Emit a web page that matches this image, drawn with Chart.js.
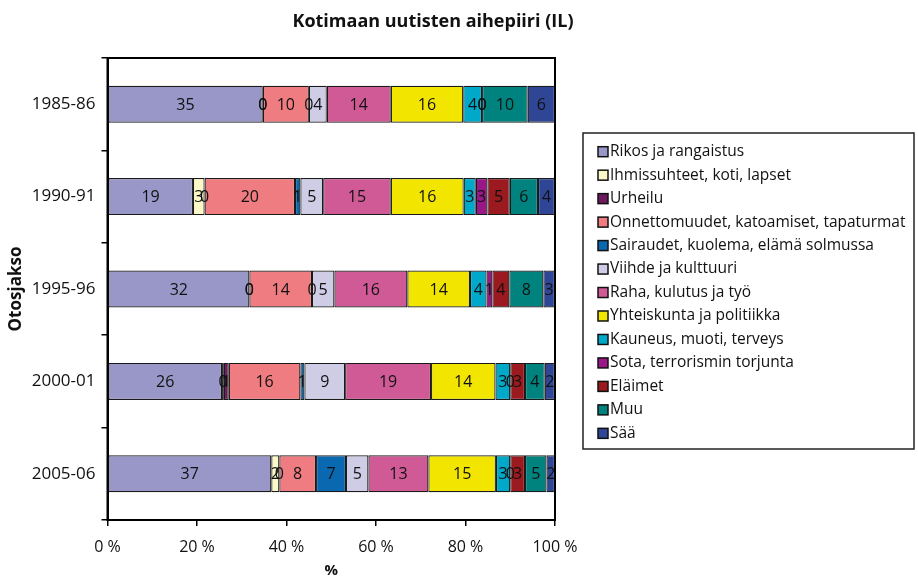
<!DOCTYPE html>
<html><head><meta charset="utf-8">
<script src="https://cdn.jsdelivr.net/npm/chart.js@4.4.0/dist/chart.umd.min.js"></script>
<style>html,body{margin:0;padding:0;background:#fff}#wrap{width:918px;height:580px}</style>
</head><body><div id="wrap"><canvas id="c" width="918" height="580"></canvas></div>
<script>
const chartTitle = 'Kotimaan uutisten aihepiiri (IL)';
const periods = ['1985-86', '1990-91', '1995-96', '2000-01', '2005-06'];
const topics = ['Rikos ja rangaistus', 'Ihmissuhteet, koti, lapset', 'Urheilu',
  'Onnettomuudet, katoamiset, tapaturmat', 'Sairaudet, kuolema, elämä solmussa',
  'Viihde ja kulttuuri', 'Raha, kulutus ja työ', 'Yhteiskunta ja politiikka',
  'Kauneus, muoti, terveys', 'Sota, terrorismin torjunta', 'Eläimet', 'Muu', 'Sää'];
const rikos        = [34.7, 19.1, 31.7, 25.6, 36.6];
const ihmissuhteet = [0, 2.6, 0, 0.4, 1.8];
const urheilu      = [0, 0, 0, 1.1, 0];
const onnettomuudet= [10.3, 20.2, 14.0, 16.0, 8.2];
const sairaudet    = [0, 1.2, 0, 0.9, 6.7];
const viihde       = [4.0, 5.1, 5.0, 9.1, 5.0];
const raha         = [14.3, 15.1, 16.3, 19.2, 13.4];
const yhteiskunta  = [16.2, 16.3, 14.0, 14.4, 15.1];
const kauneus      = [4.2, 2.7, 3.7, 3.3, 3.2];
const sota         = [0, 2.6, 1.3, 0, 0];
const elaimet      = [0, 5.0, 3.8, 3.3, 3.3];
const muu          = [10.2, 6.3, 7.6, 4.4, 4.8];
const saa          = [6.1, 3.8, 2.6, 2.3, 1.9];
const xTickValues  = [0, 20, 40, 60, 80, 100];

const seriesData = [rikos, ihmissuhteet, urheilu, onnettomuudet, sairaudet, viihde,
  raha, yhteiskunta, kauneus, sota, elaimet, muu, saa];
const colors = ['#9897C7', '#FCF8C8', '#6B1A5E', '#EE7C80', '#0A68B0', '#CFCDE6',
  '#CF5A96', '#F2E600', '#00A9C9', '#9A1787', '#9B1A1F', '#00837E', '#2F4696'];

const FONT = 'Open Sans';
const TXT = '#111';

const labelPlugin = {
  id: 'segLabels',
  afterDatasetsDraw(chart) {
    const ctx = chart.ctx;
    ctx.save();
    ctx.font = '16px "' + FONT + '"';
    ctx.fillStyle = TXT;
    ctx.textAlign = 'center';
    ctx.textBaseline = 'middle';
    chart.data.datasets.forEach((ds, i) => {
      const meta = chart.getDatasetMeta(i);
      meta.data.forEach((el, j) => {
        const v = ds.data[j];
        if (v === null || v === undefined) return;
        ctx.fillText(String(Math.round(v)), (el.x + el.base) / 2, el.y + 1);
      });
    });
    ctx.restore();
  }
};

const framePlugin = {
  id: 'frameAndLegend',
  afterDraw(chart) {
    const ctx = chart.ctx;
    const a = chart.chartArea;
    ctx.save();
    ctx.strokeStyle = '#000';
    ctx.lineWidth = 2;
    ctx.strokeRect(a.left, a.top, a.right - a.left, a.bottom - a.top);
    // title
    ctx.fillStyle = TXT;
    ctx.font = 'bold 18px "' + FONT + '"';
    ctx.textAlign = 'center';
    ctx.textBaseline = 'middle';
    ctx.fillText(chartTitle, 433, 22);
    // legend
    ctx.lineWidth = 1.5;
    ctx.strokeStyle = '#222';
    ctx.strokeRect(583, 133, 331, 316);
    ctx.font = '15.5px "' + FONT + '"';
    ctx.textAlign = 'left';
    chart.data.datasets.forEach((ds, i) => {
      const y = 151.7 + i * 23.47;
      ctx.fillStyle = ds.backgroundColor;
      ctx.fillRect(598, y - 5, 10, 10);
      ctx.strokeStyle = '#111';
      ctx.lineWidth = 1.5;
      ctx.strokeRect(598, y - 5, 10, 10);
      ctx.fillStyle = TXT;
      ctx.fillText(ds.label, 610, y);
    });
    ctx.restore();
  }
};

new Chart(document.getElementById('c'), {
  type: 'bar',
  data: {
    labels: periods,
    datasets: seriesData.map((d, i) => ({
      label: topics[i], data: d, backgroundColor: colors[i],
      borderColor: '#1a1a1a', borderWidth: 1.2, borderSkipped: false,
      barPercentage: 0.4, categoryPercentage: 1
    }))
  },
  options: {
    indexAxis: 'y', responsive: false, animation: false,
    layout: { padding: { top: 58, right: 363, bottom: 0, left: 0 } },
    plugins: { legend: { display: false }, tooltip: { enabled: false }, title: { display: false } },
    scales: {
      x: {
        stacked: true, min: 0, max: 100,
        afterBuildTicks: s => { s.ticks = xTickValues.map(v => ({ value: v })); },
        ticks: { callback: v => v + ' %', font: { family: FONT, size: 16 }, color: TXT, padding: 12 },
        grid: { drawOnChartArea: false, tickLength: 6, color: '#000', lineWidth: 1.5 },
        border: { color: '#000', width: 2 },
        title: { display: true, text: '%', font: { family: FONT, size: 15, weight: 'bold' }, color: TXT, padding: 0 },
        afterFit: s => { s.height = 60; }
      },
      y: {
        stacked: true,
        ticks: { font: { family: FONT, size: 17 }, color: TXT, padding: 6 },
        grid: { drawOnChartArea: false, tickLength: 6, color: '#000', lineWidth: 1.5, offset: true },
        border: { color: '#000', width: 2 },
        title: { display: true, text: 'Otosjakso', font: { family: FONT, size: 17, weight: 'bold' }, color: TXT, padding: { top: 6, bottom: 0 } },
        afterFit: s => { s.width = 107.5; }
      }
    }
  },
  plugins: [labelPlugin, framePlugin]
});
</script></body></html>
